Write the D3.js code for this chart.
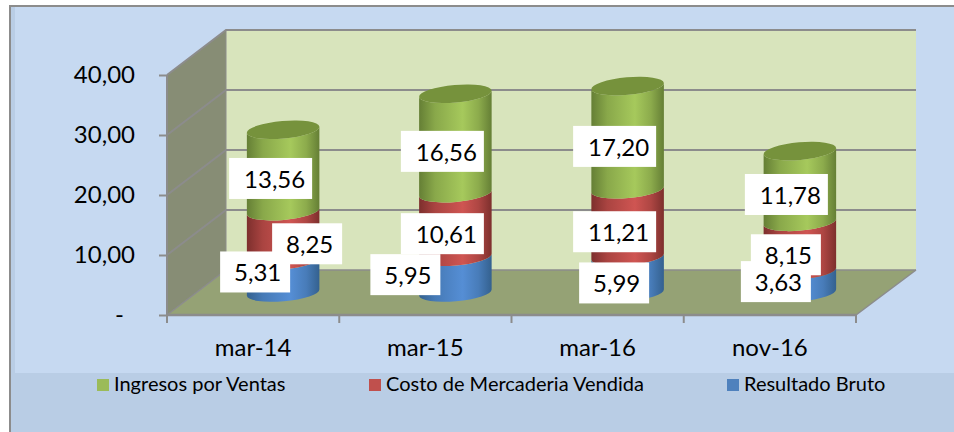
<!DOCTYPE html>
<html><head><meta charset="utf-8">
<style>html,body{margin:0;padding:0;background:#fff}svg{display:block}text{font-family:Lato,"Open Sans",sans-serif}</style>
<script src="https://cdn.jsdelivr.net/npm/d3@7"></script></head>
<body><svg id="c" width="954" height="432"></svg>
<script>
const categories = ["mar-14","mar-15","mar-16","nov-16"];
const resultadoBruto = [5.31,5.95,5.99,3.63];
const costoMercaderia = [8.25,10.61,11.21,8.15];
const ingresosVentas = [13.56,16.56,17.20,11.78];
const yTicks = [0,10,20,30,40];
const seriesNames = ["Resultado Bruto","Costo de Mercaderia Vendida","Ingresos por Ventas"];

// layout only
const labelNudge = [
  [[-28,-4.6],[24,7.9],[-12.5,8]],
  [[-50,0],[-13,8.7],[-13,7.9]],
  [[-13.5,8.4],[-13,8.8],[-13,8.7]],
  [[-24,0],[-14,8.5],[-13.5,8]]
];
const depth = {x:59,y:-45};
const grey = "#8c8c8c";
const svg = d3.select("#c");
const defs = svg.append("defs");
const fmt = v => v===0 ? "-" : d3.format(".2f")(v).replace(".",",");

svg.append("rect").attr("width",954).attr("height",432).attr("fill","#fff");
svg.append("rect").attr("x",9).attr("y",5).attr("width",945).attr("height",427).attr("fill",grey);
svg.append("rect").attr("x",11).attr("y",7).attr("width",943).attr("height",425).attr("fill","#c6d9f1");
svg.append("rect").attr("x",11).attr("y",7).attr("width",4).attr("height",425).attr("fill","#b9cde5");
svg.append("rect").attr("x",11).attr("y",373).attr("width",943).attr("height",59).attr("fill","#b9cde5");

const x = d3.scaleBand().domain(categories).range([167,856]);
const y = d3.scaleLinear().domain([0,40]).range([315,75]);
const bx = x.range()[0], ex = x.range()[1];
const pt = (a,b)=>a+","+b;

// walls
svg.append("polygon").attr("fill","#d8e4bc")
  .attr("points",[pt(bx+depth.x,y(40)+depth.y),pt(ex+depth.x+1,y(40)+depth.y),pt(ex+depth.x+1,y(0)+depth.y),pt(bx+depth.x,y(0)+depth.y)].join(" "));
svg.append("polygon").attr("fill","#878d75")
  .attr("points",[pt(bx,y(40)),pt(bx+depth.x,y(40)+depth.y),pt(bx+depth.x,y(0)+depth.y),pt(bx,y(0))].join(" "));
svg.append("polygon").attr("fill","#95a275")
  .attr("points",[pt(bx,y(0)),pt(bx+depth.x,y(0)+depth.y),pt(ex+depth.x+1,y(0)+depth.y),pt(ex,y(0))].join(" "));

// gridlines (side wall + back wall)
yTicks.forEach(t=>{
  svg.append("polyline").attr("fill","none").attr("stroke",grey).attr("stroke-width",t===0?1.5:2)
    .attr("points",[pt(bx,y(t)),pt(bx+depth.x,y(t)+depth.y),pt(ex+depth.x+1,y(t)+depth.y)].join(" "));
});
svg.append("line").attr("x1",ex).attr("y1",y(0)).attr("x2",ex+depth.x+1).attr("y2",y(0)+depth.y).attr("stroke",grey).attr("stroke-width",1.5);
svg.append("line").attr("x1",bx+depth.x).attr("y1",y(40)+depth.y).attr("x2",bx+depth.x).attr("y2",y(0)+depth.y).attr("stroke",grey).attr("stroke-width",1);
svg.append("line").attr("x1",bx).attr("y1",y(40)).attr("x2",bx).attr("y2",y(0)).attr("stroke",grey).attr("stroke-width",2);

// axes
const yAxis = d3.axisLeft(y).tickValues(yTicks).tickFormat(fmt).tickSize(8).tickPadding(24);
const gy = svg.append("g").attr("transform",`translate(${bx},0)`).call(yAxis);
gy.select(".domain").remove();
gy.selectAll("line").attr("stroke",grey).attr("stroke-width",2);
gy.selectAll("text").attr("font-size",24).attr("fill","#000").style("font-family","Lato")
  .attr("dx",d=>d===0?-11:0);

const gx = svg.append("g").attr("transform",`translate(0,${y(0)})`);
gx.append("line").attr("x1",bx).attr("x2",ex).attr("stroke",grey).attr("stroke-width",2.5);
x.domain().concat("end").forEach((c,i)=>{
  const px = bx + i*x.step();
  gx.append("line").attr("x1",px).attr("x2",px).attr("y1",0).attr("y2",8).attr("stroke",grey).attr("stroke-width",2);
});
gx.selectAll("text.cat").data(categories).join("text").attr("class","cat")
  .attr("x",d=>x(d)+x.bandwidth()/2).attr("y",41).attr("text-anchor","middle")
  .attr("font-size",24).attr("fill","#000").text(d=>d);

// cylinders
const rx = 36.4, ry = 8.8, rot = -5;
const ex0 = rx*Math.cos(rot*Math.PI/180), ey0 = rx*Math.sin(rot*Math.PI/180);
function grad(id,dark,mid){
  const g = defs.append("linearGradient").attr("id",id);
  [[0,dark],[.22,d3.interpolateRgb(dark,mid)(.55)],[.6,mid],[.82,d3.interpolateRgb(dark,mid)(.6)],[1,dark]]
    .forEach(s=>g.append("stop").attr("offset",s[0]).attr("stop-color",s[1]));
}
grad("gBlue","#34618f","#558ed5");
grad("gRed","#7d2f2d","#cf5552");
grad("gGreen","#657f35","#a6c95c");
const fills = ["url(#gBlue)","url(#gRed)","url(#gGreen)"];
const yBack = v => y(v)+depth.y/2;
const seriesValues = [resultadoBruto,costoMercaderia,ingresosVentas];
const gc = svg.append("g");
const labelItems = [];
categories.forEach((c,i)=>{
  const cx = x(c)+x.bandwidth()/2+depth.x/2+0.5;
  const stack = d3.stack().keys([0,1,2]).value((d,k)=>seriesValues[k][d])([i]);
  stack.forEach((s,k)=>{
    const [v0,v1] = s[0];
    const a = yBack(v0), b = yBack(v1);
    const lx = cx-ex0, rxx = cx+ex0;
    gc.append("path").attr("fill",fills[k]).attr("d",
      `M${lx},${a-ey0}A${rx},${ry} ${rot} 0 0 ${rxx},${a+ey0}L${rxx},${b+ey0}A${rx},${ry} ${rot} 0 1 ${lx},${b-ey0}Z`);
    labelItems.push({k,v:v1-v0,cx:cx+labelNudge[i][k][0],cy:yBack((v0+v1)/2)+labelNudge[i][k][1]});
    if(k===2) gc.append("ellipse").attr("cx",cx).attr("cy",b).attr("rx",rx).attr("ry",ry)
      .attr("transform",`rotate(${rot} ${cx} ${b})`).attr("fill","#76923c");
  });
});

// data labels: all boxes first, then all texts so no number gets clipped
const gl = svg.append("g");
labelItems.forEach(d=>{
  const w = d.v>=10 ? 83 : 70, h = 41;
  gl.append("rect").attr("x",d.cx-w/2).attr("y",d.cy-h/2).attr("width",w).attr("height",h).attr("fill","#fff");
});
labelItems.forEach(d=>{
  gl.append("text").attr("x",d.cx+(d.v>=10?4:2.5)).attr("y",d.cy+9.2).attr("text-anchor","middle")
    .attr("font-size",24).attr("fill","#000").text(fmt(d.v));
});

// legend
const legendX = {"Ingresos por Ventas":97,"Costo de Mercaderia Vendida":369,"Resultado Bruto":727};
const legendColor = {"Ingresos por Ventas":"#9bbb59","Costo de Mercaderia Vendida":"#c0504d","Resultado Bruto":"#4f81bd"};
const lg = svg.append("g");
seriesNames.slice().reverse().forEach(n=>{
  lg.append("rect").attr("x",legendX[n]).attr("y",379).attr("width",12).attr("height",12).attr("fill",legendColor[n]);
  lg.append("text").attr("x",legendX[n]+17).attr("y",391).attr("font-size",20).attr("fill","#000").text(n);
});
</script></body></html>
